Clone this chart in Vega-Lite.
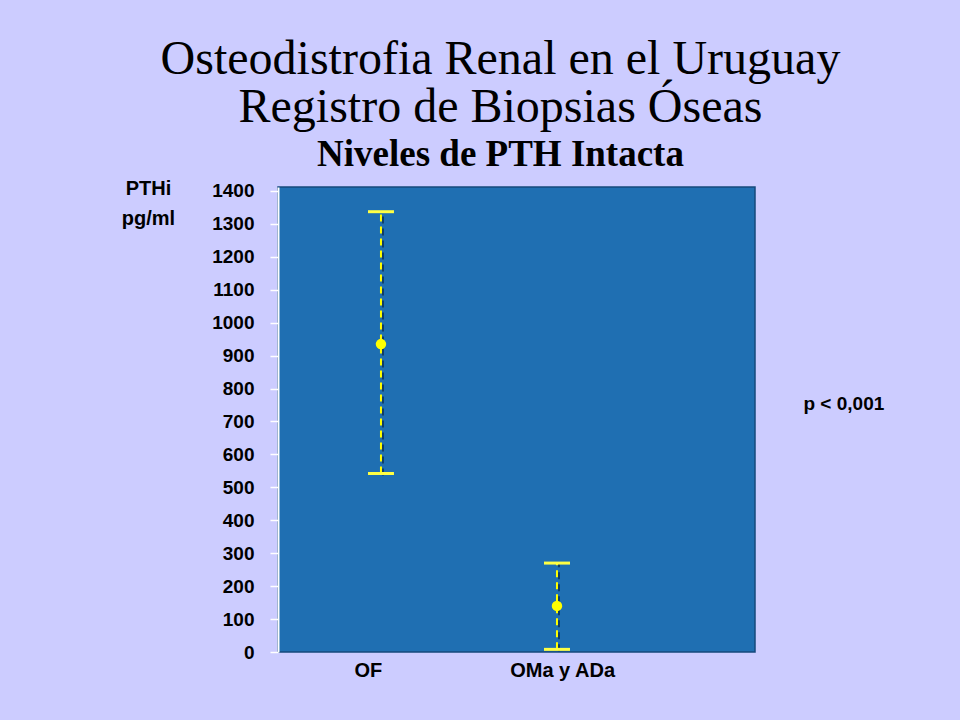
{
  "$schema": "https://vega.github.io/schema/vega-lite/v6.json",
  "autosize": "none",
  "width": 477,
  "height": 465,
  "padding": {"left": 278, "top": 187, "right": 205, "bottom": 68},
  "background": "#ccccff",
  "title": {
    "text": ["Osteodistrofia Renal en el Uruguay", "Registro de Biopsias Óseas"],
    "subtitle": "Niveles de PTH Intacta",
    "anchor": "middle",
    "dx": -16,
    "font": "Liberation Serif",
    "fontSize": 48,
    "fontWeight": "normal",
    "color": "#000000",
    "lineHeight": 48,
    "subtitleFont": "Liberation Serif",
    "subtitleFontSize": 37,
    "subtitleFontWeight": "bold",
    "subtitleColor": "#000000",
    "subtitlePadding": 5,
    "offset": 5
  },
  "config": {
    "view": {"fill": "#1f6fb2", "stroke": "#164a7c", "strokeWidth": 1.5},
    "axis": {"grid": false, "labelFont": "Liberation Sans", "labelFontWeight": "bold", "labelColor": "#000000"}
  },
  "data": {
    "values": [
      {"grupo": 1, "nombre": "OF", "media": 935, "bajo": 542, "alto": 1337},
      {"grupo": 2, "nombre": "OMa y ADa", "media": 140, "bajo": 8, "alto": 270}
    ]
  },
  "encoding": {
    "x": {"field": "grupo", "type": "quantitative", "scale": {"domain": [0.415, 3.125], "nice": false, "zero": false},
      "axis": {"values": [0.926, 2.029], "tickCount": 5, "labelExpr": "datum.value < 1.5 ? 'OF' : 'OMa y ADa'", "title": null, "ticks": false, "domain": false, "labelFontSize": 20, "labelPadding": 8}}
  },
  "layer": [
    {
      "mark": {"type": "rule", "color": "#0b2f55", "strokeWidth": 2, "strokeDash": [7, 5], "xOffset": 2, "yOffset": 2, "opacity": 0.8},
      "encoding": {
        "y": {"field": "bajo", "type": "quantitative", "scale": {"domain": [0, 1412], "nice": false},
          "axis": {"values": [0,100,200,300,400,500,600,700,800,900,1000,1100,1200,1300,1400], "tickCount": 20, "labelOverlap": false,
            "format": "d", "zindex": 1, "domainColor": "#ffffff", "domainWidth": 2, "tickColor": "#ffffff", "tickSize": 8, "tickWidth": 1.5, "labelFontSize": 19, "labelPadding": 16,
            "title": ["PTHi", "pg/ml"], "titleAngle": 0, "titleFont": "Liberation Sans", "titleFontWeight": "bold", "titleFontSize": 20, "titleColor": "#000000", "titleAlign": "center", "titleBaseline": "top", "titleX": -130, "titleY": -9, "titleLineHeight": 30}},
        "y2": {"field": "alto"}
      }
    },
    {
      "mark": {"type": "rule", "color": "#ffff00", "strokeWidth": 2, "strokeDash": [7, 5]},
      "encoding": {
        "y": {"field": "bajo", "type": "quantitative"},
        "y2": {"field": "alto"}
      }
    },
    {
      "mark": {"type": "tick", "orient": "horizontal", "color": "#ffff44", "size": 26, "thickness": 3, "opacity": 1},
      "encoding": {
        "y": {"field": "alto", "type": "quantitative"}
      }
    },
    {
      "mark": {"type": "tick", "orient": "horizontal", "color": "#ffff44", "size": 26, "thickness": 3, "opacity": 1},
      "encoding": {
        "y": {"field": "bajo", "type": "quantitative"}
      }
    },
    {
      "mark": {"type": "point", "shape": "circle", "filled": true, "color": "#ffff00", "size": 110, "opacity": 1},
      "encoding": {
        "y": {"field": "media", "type": "quantitative"}
      }
    },
    {
      "data": {"values": [{"grupo": 3.63, "y": 752, "texto": "p < 0,001"}]},
      "mark": {"type": "text", "font": "Liberation Sans", "fontWeight": "bold", "fontSize": 19, "color": "#000000", "align": "center", "baseline": "middle"},
      "encoding": {
        "y": {"field": "y", "type": "quantitative"},
        "text": {"field": "texto"}
      }
    }
  ]
}
